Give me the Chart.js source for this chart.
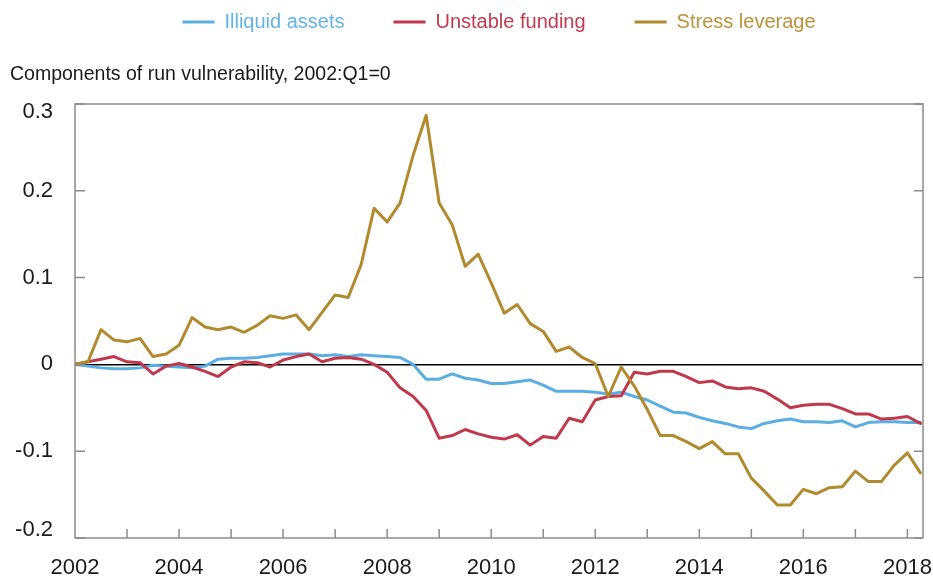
<!DOCTYPE html>
<html>
<head>
<meta charset="utf-8">
<script src="https://cdn.jsdelivr.net/npm/chart.js@4.4.1/dist/chart.umd.min.js"></script>
<style>
html, body { margin: 0; padding: 0; background: #ffffff; }
#wrap { width: 933px; height: 581px; position: relative; }
</style>
</head>
<body>
<div id="wrap"><canvas id="chart"></canvas></div>
<script>
// ---- Data (quarterly, 2002:Q1 = 0) ----
const quarters = [];
for (let y = 2002; y <= 2018; y++) { for (let q = 1; q <= 4; q++) { quarters.push(y + ':Q' + q); } }
quarters.length = 66; // 2002:Q1 .. 2018:Q2

const seriesNames = ['Illiquid assets', 'Unstable funding', 'Stress leverage'];

const illiquidAssets = [
  0, -0.002, -0.004, -0.005, -0.005, -0.004, -0.001, -0.002, -0.003, -0.004,
  -0.002, 0.006, 0.007, 0.007, 0.008, 0.010, 0.012, 0.012, 0.012, 0.010,
  0.011, 0.009, 0.011, 0.010, 0.009, 0.008, 0.000, -0.017, -0.017, -0.011,
  -0.016, -0.018, -0.022, -0.022, -0.020, -0.018, -0.024, -0.031, -0.031, -0.031,
  -0.032, -0.034, -0.032, -0.037, -0.041, -0.048, -0.055, -0.056, -0.061, -0.065,
  -0.068, -0.072, -0.074, -0.068, -0.065, -0.063, -0.066, -0.066, -0.067, -0.065,
  -0.072, -0.067, -0.066, -0.066, -0.067, -0.067
];

const unstableFunding = [
  0, 0.003, 0.006, 0.009, 0.003, 0.002, -0.011, -0.002, 0.001, -0.003,
  -0.008, -0.014, -0.003, 0.003, 0.002, -0.003, 0.005, 0.009, 0.012, 0.003,
  0.007, 0.008, 0.006, 0.000, -0.009, -0.027, -0.037, -0.053, -0.085, -0.082,
  -0.075, -0.080, -0.084, -0.086, -0.081, -0.093, -0.083, -0.085, -0.062, -0.066,
  -0.041, -0.037, -0.036, -0.009, -0.011, -0.008, -0.008, -0.014, -0.021, -0.019,
  -0.026, -0.028, -0.027, -0.031, -0.040, -0.050, -0.047, -0.046, -0.046, -0.051,
  -0.057, -0.057, -0.063, -0.062, -0.060, -0.068
];

const stressLeverage = [
  0, 0.003, 0.040, 0.028, 0.026, 0.030, 0.009, 0.012, 0.022, 0.054,
  0.043, 0.040, 0.043, 0.037, 0.045, 0.056, 0.053, 0.057, 0.040, 0.060,
  0.080, 0.077, 0.115, 0.180, 0.164, 0.186, 0.241, 0.287, 0.186, 0.161,
  0.113, 0.127, 0.094, 0.059, 0.069, 0.047, 0.038, 0.015, 0.020, 0.008,
  0.001, -0.037, -0.003, -0.025, -0.052, -0.082, -0.082, -0.089, -0.097, -0.089,
  -0.103, -0.103, -0.131, -0.146, -0.162, -0.162, -0.144, -0.149, -0.142, -0.141,
  -0.123, -0.135, -0.135, -0.116, -0.102, -0.125
];

const yTickValues = [-0.2, -0.1, 0, 0.1, 0.2, 0.3];
const yTickLabels = ['-0.2', '-0.1', '0', '0.1', '0.2', '0.3'];
const xTickYears = [2002, 2003, 2004, 2005, 2006, 2007, 2008, 2009, 2010, 2011, 2012, 2013, 2014, 2015, 2016, 2017, 2018];
const xLabelYears = [2002, 2004, 2006, 2008, 2010, 2012, 2014, 2016, 2018];
const xRange = [2002, 2018.3];

const titleText = 'Components of run vulnerability, 2002:Q1=0';

// quarter label -> position on a continuous time axis (year + fraction)
const quarterPos = quarters.map(s => Number(s.slice(0, 4)) + (Number(s.slice(6)) - 1) / 4);
const toPoints = vals => vals.map((v, i) => ({ x: quarterPos[i], y: v }));

// ---- Styles ----
const lineColors = ['#5aaee3', '#c0394b', '#b28a2e'];
const textColors = ['#62b3e6', '#c23a4d', '#bb9238'];
const FONT = "'Liberation Sans', Arial, Helvetica, sans-serif";

// inward tick marks + frame
const framePlugin = {
  id: 'frame',
  afterDatasetsDraw(chart) {
    const ctx = chart.ctx;
    const a = chart.chartArea;
    const xs = chart.scales.x, ys = chart.scales.y;
    ctx.save();
    ctx.strokeStyle = '#8c8c8c';
    ctx.lineWidth = 1.5;
    ctx.beginPath();
    xTickYears.forEach(yr => {
      if (yr === xRange[0]) return;
      const px = xs.getPixelForValue(yr);
      ctx.moveTo(px, a.bottom);
      ctx.lineTo(px, a.bottom - 9);
    });
    yTickValues.forEach(v => {
      if (v === 0) return;
      const py = ys.getPixelForValue(v);
      ctx.moveTo(a.left, py); ctx.lineTo(a.left + 10, py);
      ctx.moveTo(a.right, py); ctx.lineTo(a.right - 9, py);
    });
    ctx.stroke();
    ctx.strokeRect(a.left, a.top, a.right - a.left, a.bottom - a.top);
    ctx.restore();
  }
};

const ctx = document.getElementById('chart');
new Chart(ctx, {
  type: 'line',
  data: {
    datasets: [
      { label: seriesNames[0], data: toPoints(illiquidAssets), borderColor: lineColors[0], backgroundColor: lineColors[0], order: 3 },
      { label: seriesNames[1], data: toPoints(unstableFunding), borderColor: lineColors[1], backgroundColor: lineColors[1], order: 2 },
      { label: seriesNames[2], data: toPoints(stressLeverage), borderColor: lineColors[2], backgroundColor: lineColors[2], order: 1 }
    ]
  },
  options: {
    responsive: true,
    maintainAspectRatio: false,
    animation: false,
    events: [],
    elements: {
      line: { borderWidth: 3, tension: 0, borderJoinStyle: 'round', borderCapStyle: 'round' },
      point: { radius: 0 }
    },
    layout: { padding: { top: -37, left: 10, right: 10, bottom: 0 } },
    plugins: {
      tooltip: { enabled: false },
      legend: {
        position: 'top',
        align: 'center',
        fullSize: false,
        weight: 3000,
        labels: {
          font: { family: FONT, size: 20 },
          boxWidth: 32,
          boxHeight: 3,
          padding: 49,
          sort: (a, b) => a.datasetIndex - b.datasetIndex,
          generateLabels(chart) {
            const items = Chart.defaults.plugins.legend.labels.generateLabels(chart);
            items.forEach(it => {
              it.fontColor = textColors[it.datasetIndex];
              it.fillStyle = lineColors[it.datasetIndex];
              it.strokeStyle = lineColors[it.datasetIndex];
              it.lineWidth = 0;
            });
            return items;
          }
        }
      },
      title: {
        display: true,
        text: titleText,
        align: 'start',
        position: 'top',
        weight: 2000,
        color: '#1a1a1a',
        font: { family: FONT, size: 19.5, weight: 'normal', lineHeight: 1.2 },
        padding: { top: 21.3, bottom: 17.3 }
      }
    },
    scales: {
      x: {
        type: 'linear',
        min: xRange[0],
        max: xRange[1],
        offset: false,
        grid: { display: false, drawTicks: false },
        border: { display: false },
        afterBuildTicks(scale) {
          scale.ticks = xTickYears.map(v => ({ value: v }));
        },
        ticks: {
          autoSkip: false,
          maxRotation: 0,
          minRotation: 0,
          padding: 0,
          color: '#1a1a1a',
          font: { family: FONT, size: 22, lineHeight: '60px' },
          callback(v) {
            const yr = Math.round(v);
            return (Math.abs(v - yr) < 1e-6 && xLabelYears.includes(yr)) ? String(yr) : '';
          }
        },
        afterFit(scale) { scale.height = 43; }
      },
      y: {
        min: -0.2,
        max: 0.3,
        grid: {
          drawTicks: false,
          color: c => (c.tick && Math.abs(c.tick.value) < 1e-9) ? '#000000' : 'rgba(0,0,0,0)',
          lineWidth: 1.5
        },
        border: { display: false },
        ticks: {
          stepSize: 0.1,
          padding: 22,
          color: '#1a1a1a',
          font: { family: FONT, size: 22, lineHeight: '16px' },
          callback(v) {
            const i = yTickValues.findIndex(t => Math.abs(t - v) < 1e-9);
            if (i < 0) return '';
            // top label sits just below the frame, bottom label just above it
            if (i === yTickValues.length - 1) return ['', yTickLabels[i]];
            if (i === 0) return [yTickLabels[i], ''];
            return yTickLabels[i];
          }
        },
        afterFit(scale) { scale.width = 65; }
      }
    }
  },
  plugins: [framePlugin]
});
</script>
</body>
</html>
